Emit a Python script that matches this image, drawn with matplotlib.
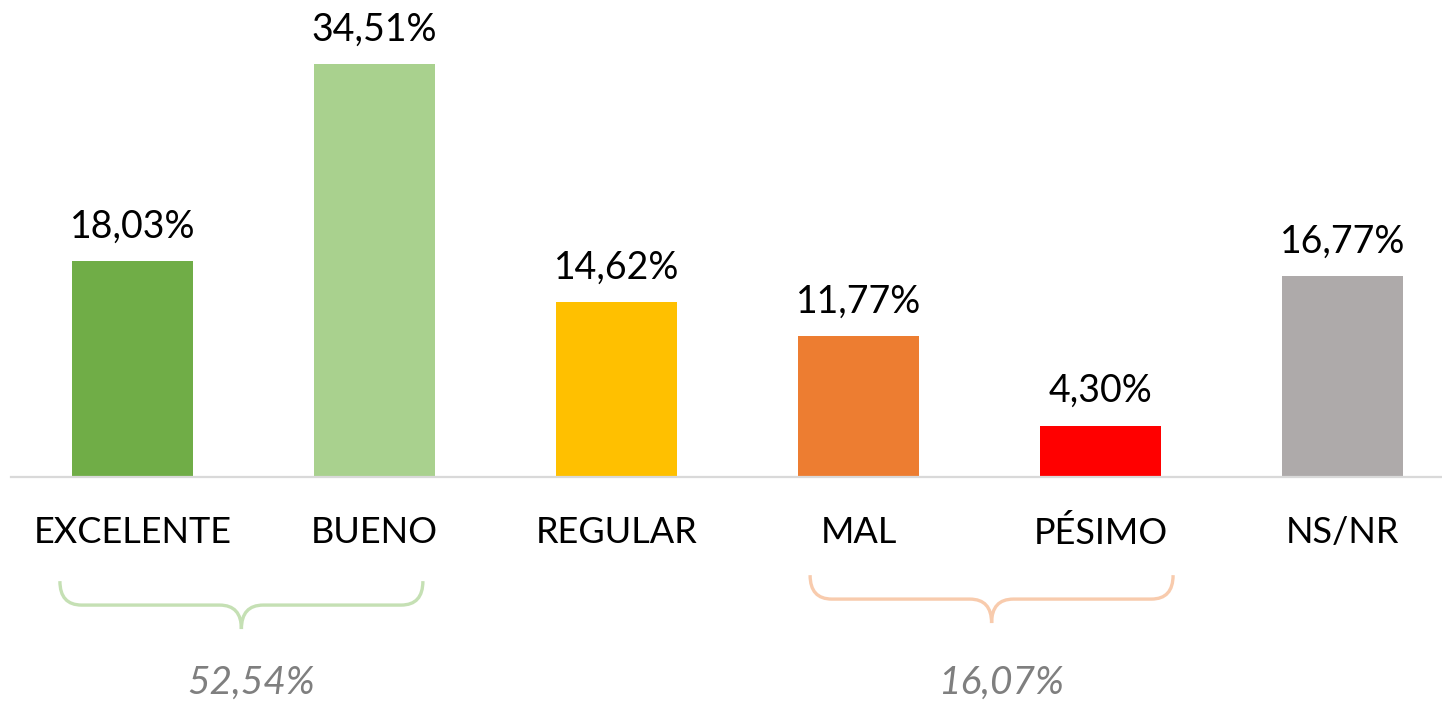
import matplotlib
matplotlib.use("Agg")
from matplotlib import pyplot as plt
from matplotlib.path import Path
from matplotlib.patches import PathPatch

categories = ["EXCELENTE", "BUENO", "REGULAR", "MAL", "PÉSIMO", "NS/NR"]
values = [18.03, 34.51, 14.62, 11.77, 4.30, 16.77]
colors = ["#70AD47", "#A9D18E", "#FFC000", "#ED7D31", "#FF0000", "#AEAAAA"]

group_labels = ["52,54%", "16,07%"]
group_colors = ["#C5E0B4", "#F8CBAD"]

plt.rcParams["font.family"] = ["Lato", "DejaVu Sans"]

W, H = 1442, 701
fig = plt.figure(figsize=(W / 100, H / 100), dpi=100)
# 242 px per category, first category starts at x=11.5, baseline at y=477
ax = fig.add_axes([11.5 / W, (H - 477) / H, 6 * 242 / W, 40 * 11.97 / H])
ax.set_xlim(-0.5, 5.5)
ax.set_ylim(0, 40)

x = range(len(categories))
bars = ax.bar(x, values, width=0.5, color=colors, zorder=2)

for b, v in zip(bars, values):
    ax.annotate(f"{v:.2f}%".replace(".", ","), (b.get_x() + b.get_width() / 2, v),
                xytext=(0, 17), textcoords="offset points",
                ha="center", va="baseline", fontsize=27, color="black")

for s in ["top", "right", "left"]:
    ax.spines[s].set_visible(False)
ax.spines["bottom"].set_color("#D9D9D9")
ax.spines["bottom"].set_linewidth(1.6)
ax.set_yticks([])
ax.set_xticks(list(x))
ax.set_xticklabels(categories, fontsize=26)
ax.tick_params(axis="x", length=0, pad=28)


def brace(x0, x1, ytop, yh, ytip, color):
    xm = (x0 + x1) / 2
    r = 0.09
    verts = [(x0, ytop), (x0, yh), (x0 + r, yh),
             (xm - r, yh), (xm, yh), (xm, ytip),
             (xm, yh), (xm + r, yh),
             (x1 - r, yh), (x1, yh), (x1, ytop)]
    codes = [Path.MOVETO, Path.CURVE3, Path.CURVE3,
             Path.LINETO, Path.CURVE3, Path.CURVE3,
             Path.CURVE3, Path.CURVE3,
             Path.LINETO, Path.CURVE3, Path.CURVE3]
    ax.add_patch(PathPatch(Path(verts, codes), fill=False, edgecolor=color,
                           lw=2.4, clip_on=False, capstyle="butt"))
    return xm


# brace extents (x0, x1, vertical offset) under the grouped categories
brace_pos = [(-0.30, 1.20, 0.0), (2.80, 4.30, 0.5)]
for (x0, x1, off), lab, c in zip(brace_pos, group_labels, group_colors):
    xm = brace(x0, x1, -8.7 + off, -10.7 + off, -12.7 + off, c)
    ax.text(xm + 0.04, -17.2, lab, ha="center", va="center", fontsize=28,
            style="italic", color="#7F7F7F", clip_on=False)

fig.savefig("out.png", dpi=100)
